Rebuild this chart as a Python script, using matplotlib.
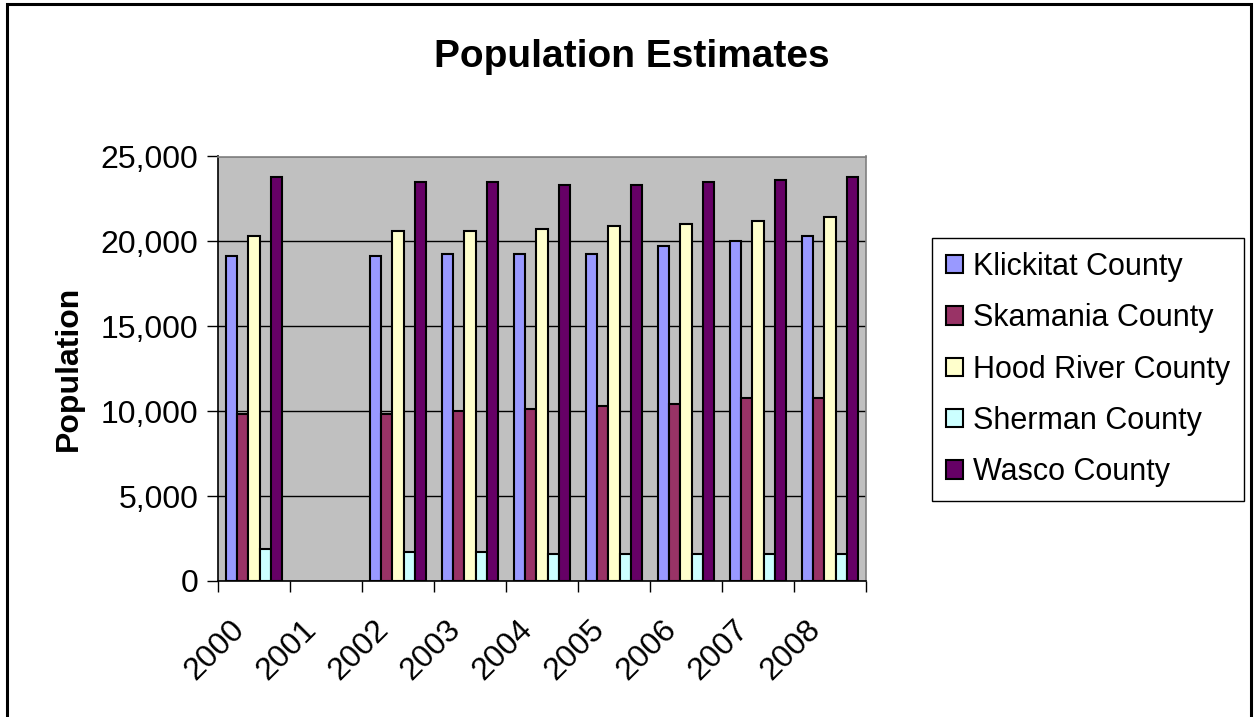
import numpy as np
import matplotlib
matplotlib.use("Agg")
import matplotlib.pyplot as plt
from matplotlib.patches import Rectangle

plt.rcParams['font.family'] = ['Liberation Sans', 'DejaVu Sans']

years = ["2000", "2001", "2002", "2003", "2004", "2005", "2006", "2007", "2008"]
series_names = ["Klickitat County", "Skamania County", "Hood River County",
                "Sherman County", "Wasco County"]
klickitat = [19150, np.nan, 19150, 19280, 19280, 19280, 19700, 20020, 20300]
skamania = [9850, np.nan, 9850, 10000, 10150, 10300, 10430, 10750, 10750]
hood_river = [20300, np.nan, 20600, 20600, 20750, 20880, 21050, 21180, 21430]
sherman = [1880, np.nan, 1730, 1730, 1570, 1570, 1570, 1570, 1570]
wasco = [23800, np.nan, 23500, 23500, 23350, 23350, 23500, 23630, 23800]
colors = ["#9999FF", "#993366", "#FFFFCC", "#CCFFFF", "#660066"]
yticks = [0, 5000, 10000, 15000, 20000, 25000]

W, H = 1254, 717
fig = plt.figure(figsize=(W / 100, H / 100), dpi=100)
fig.patch.set_facecolor("white")

# outer chart border (bottom edge is cut off in the reference)
fig.add_artist(Rectangle((7 / W, -0.05), (1251 - 7) / W, 1.05 - 4 / H,
                         transform=fig.transFigure, fill=False,
                         edgecolor="black", linewidth=2.2))

left, right, top, bottom = 218, 866, 156.5, 581
ax = fig.add_axes([left / W, 1 - bottom / H, (right - left) / W, (bottom - top) / H])
ax.set_facecolor("#C0C0C0")

x = np.arange(len(years))
n = len(series_names)
bw = 1 / (n + 1.5)
data = [klickitat, skamania, hood_river, sherman, wasco]
handles = []
for i, (vals, c, name) in enumerate(zip(data, colors, series_names)):
    b = ax.bar(x + (i - (n - 1) / 2) * bw, vals, width=bw, color=c,
               edgecolor="black", linewidth=1.5, label=name, zorder=3)
    handles.append(b)

ax.set_xlim(-0.5, len(years) - 0.5)
ax.set_ylim(0, 25000)
ax.set_yticks(yticks)
ax.set_yticklabels([f"{v:,}" for v in yticks], fontsize=23)
ax.yaxis.grid(True, color="black", linewidth=1.0, zorder=1)
ax.set_axisbelow(True)

ax.set_xticks(np.arange(len(years) + 1) - 0.5)
ax.set_xticklabels([])
ax.tick_params(axis="x", which="major", length=8, width=1, direction="out", color="black")
# label anchors sit left of the category centres, as in the reference
cat_px = (right - left) / len(years)
ax.set_xticks(x - 25 / cat_px, minor=True)
ax.set_xticklabels(years, minor=True, fontsize=23, rotation=45, ha="right",
                   rotation_mode="anchor")
ax.tick_params(axis="x", which="minor", length=0, pad=24)
ax.tick_params(axis="y", length=8, width=1, direction="out", pad=6)

for s in ["top", "right"]:
    ax.spines[s].set_color("#808080")
    ax.spines[s].set_linewidth(1.2)
for s in ["left", "bottom"]:
    ax.spines[s].set_color("black")
    ax.spines[s].set_linewidth(1.2)

ax.set_ylabel("Population", fontsize=23, fontweight="bold", labelpad=12)
fig.text(632 / W, 1 - 57 / H, "Population Estimates", fontsize=28,
         fontweight="bold", ha="center", va="center")

leg = fig.legend(handles=handles, labels=series_names, loc="upper left",
                 bbox_to_anchor=(932 / W, 1 - 238 / H), borderaxespad=0,
                 fontsize=22, frameon=True, fancybox=False, framealpha=1,
                 edgecolor="black", handlelength=0.55, handleheight=0.55,
                 handletextpad=0.35, labelspacing=0.70, borderpad=0.45)
leg.get_frame().set_linewidth(1.0)

fig.savefig("out.png", dpi=100)
